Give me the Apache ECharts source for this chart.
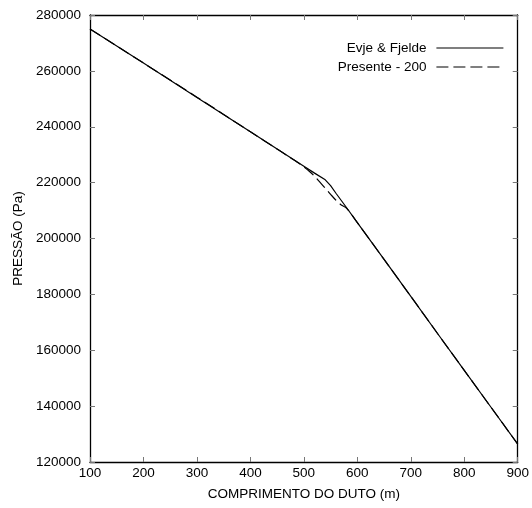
<!DOCTYPE html>
<html>
<head>
<meta charset="utf-8">
<script src="https://cdn.jsdelivr.net/npm/echarts@6/dist/echarts.min.js"></script>
<style>html,body{margin:0;padding:0;background:#fff}#c{width:532px;height:508px}</style>
</head>
<body>
<div id="c"></div>
<script>
var seriesNames = ["Evje & Fjelde", "Presente - 200"];
var evjeX = [100, 200, 300, 400, 450, 500, 520, 540, 550, 560, 580, 600, 650, 700, 750, 800, 850, 900];
var evjeY = [275000, 262800, 250500, 238200, 232000, 225900, 223400, 221000, 218900, 216200, 211000, 205700, 192500, 179300, 166000, 152800, 139600, 126400];
var presX = [100, 200, 300, 400, 450, 470, 490, 500, 510, 520, 530, 540, 550, 560, 570, 580, 600, 650, 700, 750, 800, 850, 900];
var presY = [275000, 262800, 250600, 238200, 232000, 229500, 227000, 225600, 224100, 222300, 220200, 218000, 215800, 213700, 212000, 210800, 205700, 192500, 179300, 166000, 152800, 139600, 126400];
var xTicks = [100, 200, 300, 400, 500, 600, 700, 800, 900];
var yTicks = [120000, 140000, 160000, 180000, 200000, 220000, 240000, 260000, 280000];

function pairs(xs, ys) { return xs.map(function (x, i) { return [x, ys[i]]; }); }

var font = "'Liberation Sans', Arial, sans-serif";
var chart = echarts.init(document.getElementById('c'), null, { renderer: 'canvas' });
var tickStyle = { show: true, inside: true, length: 5, lineStyle: { color: '#777', width: 1 } };
chart.setOption({
  animation: false,
  backgroundColor: '#fff',
  textStyle: { fontFamily: font },
  grid: { left: 90, right: 11, top: 15, bottom: 46, show: false },
  legend: {
    data: seriesNames,
    orient: 'vertical',
    right: 23,
    top: 36,
    align: 'right',
    itemWidth: 67,
    itemHeight: 14,
    itemGap: 5,
    itemStyle: { opacity: 0 },
    lineStyle: { width: 1.2 },
    textStyle: { fontFamily: font, fontSize: 13.5, color: '#000', padding: [0, 5, 0, 0] }
  },
  xAxis: [{
    type: 'value', min: xTicks[0], max: xTicks[xTicks.length - 1], interval: 100,
    name: 'COMPRIMENTO DO DUTO (m)', nameLocation: 'middle', nameGap: 25,
    nameTextStyle: { fontFamily: font, fontSize: 13.5, color: '#000' },
    axisLine: { show: true, lineStyle: { color: '#000', width: 1.3 } },
    axisTick: tickStyle,
    axisLabel: { color: '#000', fontFamily: font, fontSize: 13.5, margin: 4, formatter: function (v) { return String(v); } },
    splitLine: { show: false }
  }, {
    type: 'value', position: 'top', min: xTicks[0], max: xTicks[xTicks.length - 1], interval: 100,
    axisLine: { show: true, lineStyle: { color: '#000', width: 1.3 } },
    axisTick: tickStyle, axisLabel: { show: false }, splitLine: { show: false }
  }],
  yAxis: [{
    type: 'value', min: yTicks[0], max: yTicks[yTicks.length - 1], interval: 20000,
    name: 'PRESSÃO (Pa)', nameLocation: 'middle', nameGap: 64, nameRotate: 90,
    nameTextStyle: { fontFamily: font, fontSize: 13.5, color: '#000' },
    axisLine: { show: true, lineStyle: { color: '#000', width: 1.3 } },
    axisTick: tickStyle,
    axisLabel: { color: '#000', fontFamily: font, fontSize: 13.5, margin: 9, formatter: function (v) { return String(v); } },
    splitLine: { show: false }
  }, {
    type: 'value', position: 'right', min: yTicks[0], max: yTicks[yTicks.length - 1], interval: 20000,
    axisLine: { show: true, lineStyle: { color: '#000', width: 1.3 } },
    axisTick: tickStyle, axisLabel: { show: false }, splitLine: { show: false }
  }],
  series: [{
    name: seriesNames[0], type: 'line', data: pairs(evjeX, evjeY),
    symbol: 'none', showSymbol: false,
    lineStyle: { color: '#000', width: 1.2, type: 'solid' },
    itemStyle: { color: '#000' }
  }, {
    name: seriesNames[1], type: 'line', data: pairs(presX, presY),
    symbol: 'none', showSymbol: false, smooth: 0.3,
    lineStyle: { color: '#000', width: 1.2, type: [12, 5] },
    itemStyle: { color: '#000' }
  }]
});
</script>
</body>
</html>
